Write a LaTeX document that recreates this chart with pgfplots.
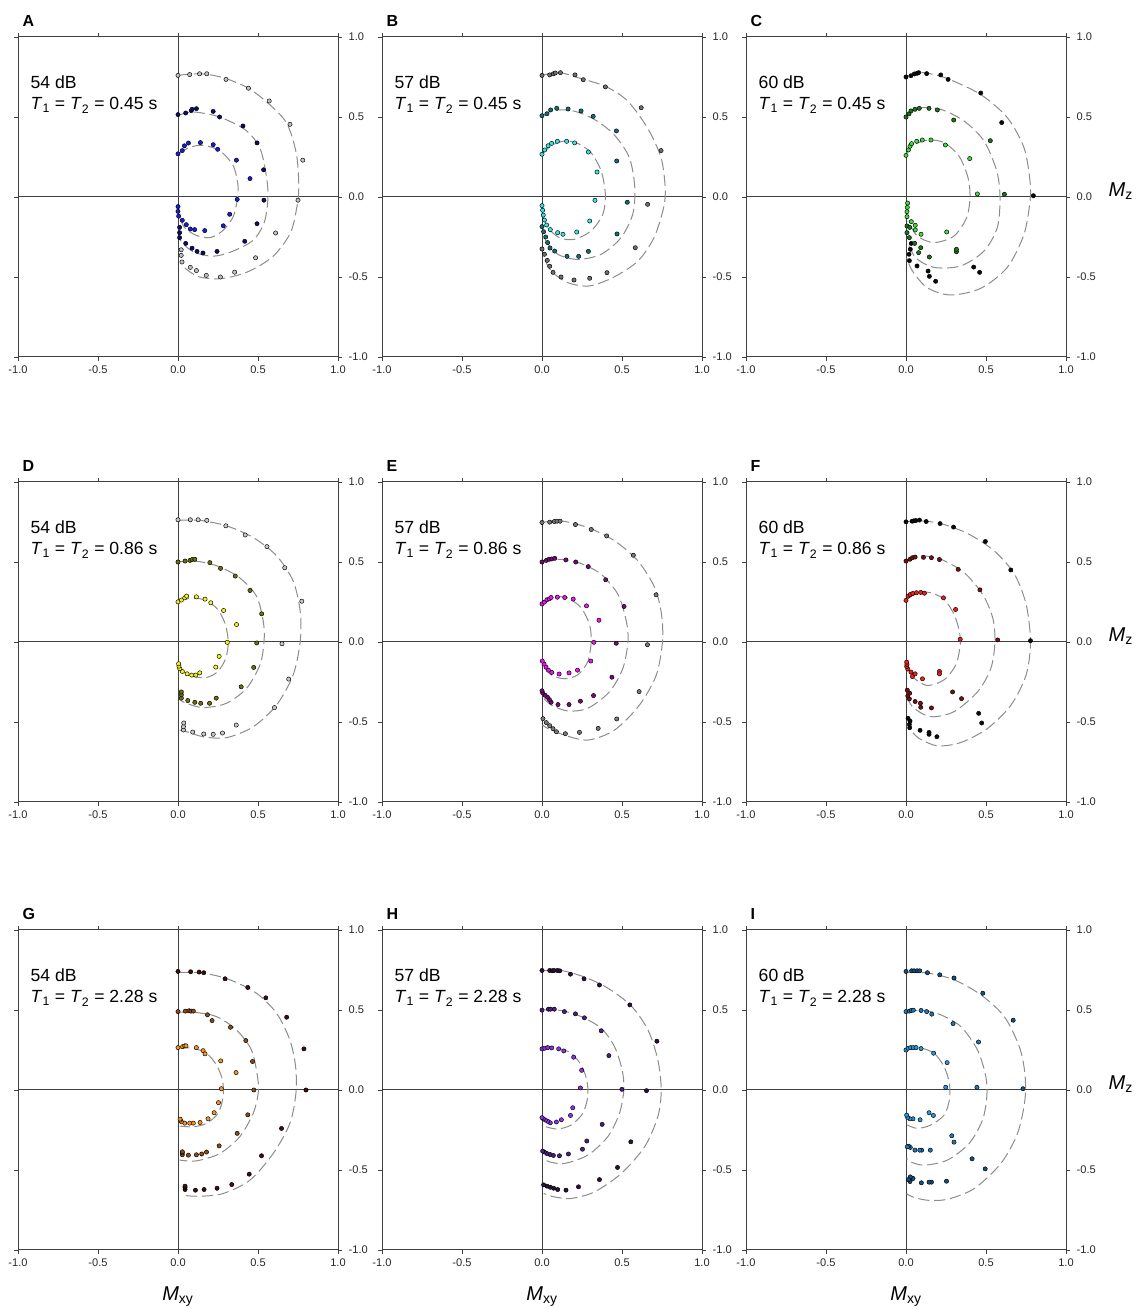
\documentclass[border=0pt]{standalone}
\usepackage{pgfplots}
\pgfplotsset{compat=1.18}
\usepackage{fontspec}
\setmainfont{Liberation Sans}

% series colours: inner, middle, outer trajectory of each panel
\definecolor{Ain}{HTML}{1A1AE0}\definecolor{Amid}{HTML}{0C0C70}\definecolor{Aout}{HTML}{C0C0C0}
\definecolor{Bin}{HTML}{33E6E6}\definecolor{Bmid}{HTML}{107070}\definecolor{Bout}{HTML}{6E6E6E}
\definecolor{Cin}{HTML}{3CDC3C}\definecolor{Cmid}{HTML}{147814}\definecolor{Cout}{HTML}{0A0A0A}
\definecolor{Din}{HTML}{F5F514}\definecolor{Dmid}{HTML}{6E6E0A}\definecolor{Dout}{HTML}{C8C8C8}
\definecolor{Ein}{HTML}{F014F0}\definecolor{Emid}{HTML}{780A78}\definecolor{Eout}{HTML}{787878}
\definecolor{Fin}{HTML}{F01E1E}\definecolor{Fmid}{HTML}{781010}\definecolor{Fout}{HTML}{0A0A0A}
\definecolor{Gin}{HTML}{F5961E}\definecolor{Gmid}{HTML}{8C4B14}\definecolor{Gout}{HTML}{3C0F0F}
\definecolor{Hin}{HTML}{8C32E6}\definecolor{Hmid}{HTML}{4B1E82}\definecolor{Hout}{HTML}{2D0F3C}
\definecolor{Iin}{HTML}{2896DC}\definecolor{Imid}{HTML}{1E78B4}\definecolor{Iout}{HTML}{145082}
\definecolor{framegray}{HTML}{404040}
\definecolor{dashgray}{HTML}{8C8C8C}

\pgfplotsset{
  blochpanel/.style={
    scale only axis, width=240pt, height=240pt,
    xmin=-1, xmax=1, ymin=-1, ymax=1,
    axis line style={draw=framegray, line width=0.75pt},
    xtick={-1,-0.5,0,0.5,1}, ytick={-1,-0.5,0,0.5,1},
    xticklabels={-1.0,-0.5,0.0,0.5,1.0}, yticklabels={-1.0,-0.5,0.0,0.5,1.0},
    tick align=outside, xtick pos=both, ytick pos=both,
    xticklabel pos=lower, yticklabel pos=right,
    major tick length=3pt, tick style={draw=framegray, line width=0.6pt},
    tick label style={font=\fontsize{8.3}{10}\selectfont, text=black!85},
    yticklabel style={xshift=1.5pt},
    anchor=south west,
  },
  dcurve/.style={smooth, draw=dashgray, line width=0.75pt, dash pattern=on 8.5pt off 3.5pt, no markers},
  dots/.style={only marks, mark=*, mark size=1.6pt, mark options={fill=#1, draw=black, line width=0.35pt}},
  originline/.style={draw=framegray, line width=0.75pt, no markers},
}

\newcommand\originlines{%
  \addplot[originline] coordinates {(-1,0) (1,0)};
  \addplot[originline] coordinates {(0,-1) (0,1)};}
\newcommand\paneltext[2]{%
  \node[anchor=base west, font=\fontsize{13.2}{15}\selectfont] at (rel axis cs:0.025,0.84) {#1 dB};
  \node[anchor=base west, font=\fontsize{13.2}{15}\selectfont] at (rel axis cs:0.025,0.772)
    {\textit{T}\textsubscript{1} = \textit{T}\textsubscript{2} = #2 s};}
\newcommand\panelletter[2]{\node[anchor=base west, yshift=7.5pt, font=\bfseries\fontsize{12}{14}\selectfont] at (#1.north west) {#2};}

\begin{document}
\begin{tikzpicture}
\useasboundingbox (0,0) rectangle (852pt,982.5pt);

% ---------------- A ----------------
\begin{axis}[blochpanel, name=pA, at={(13.5pt,714.75pt)}]
\originlines
\addplot[dcurve] coordinates {(0,0.76) (0.08,0.768) (0.18,0.767) (0.30,0.74) (0.44,0.68) (0.57,0.58) (0.68,0.46) (0.74,0.27) (0.755,0.06) (0.74,-0.08) (0.70,-0.23) (0.59,-0.375) (0.43,-0.47) (0.27,-0.51) (0.135,-0.50) (0.05,-0.45) (0.02,-0.41)};
\addplot[dcurve] coordinates {(0,0.51) (0.05,0.525) (0.115,0.53) (0.26,0.50) (0.42,0.42) (0.51,0.31) (0.55,0.146) (0.5625,0) (0.54,-0.156) (0.47,-0.27) (0.34,-0.34) (0.22,-0.37) (0.10,-0.345) (0.03,-0.29) (0.005,-0.25)};
\addplot[dcurve] coordinates {(0,0.27) (0.073,0.31) (0.156,0.323) (0.26,0.29) (0.344,0.198) (0.375,0.073) (0.37,-0.02) (0.344,-0.125) (0.28,-0.21) (0.20,-0.254) (0.115,-0.24) (0.04,-0.19) (0.004,-0.104)};
\addplot[dots=Aout] coordinates {(0,0.76) (0.073,0.765) (0.135,0.77) (0.18,0.77) (0.30,0.735) (0.44,0.68) (0.57,0.60) (0.70,0.454) (0.78,0.23) (0.75,-0.02) (0.61,-0.225) (0.485,-0.38) (0.354,-0.47) (0.265,-0.50) (0.177,-0.49) (0.115,-0.46) (0.077,-0.44) (0.025,-0.406) (0.02,-0.365) (0.02,-0.33)};
\addplot[dots=Amid] coordinates {(0,0.515) (0.048,0.525) (0.083,0.54) (0.088,0.548) (0.115,0.552) (0.22,0.535) (0.26,0.50) (0.406,0.444) (0.494,0.338) (0.535,0.17) (0.537,-0.02) (0.494,-0.167) (0.417,-0.277) (0.244,-0.34) (0.156,-0.35) (0.119,-0.34) (0.088,-0.32) (0.048,-0.29) (0.01,-0.254) (0.01,-0.223) (0.01,-0.19)};
\addplot[dots=Ain] coordinates {(0,0.27) (0.027,0.29) (0.04,0.32) (0.065,0.337) (0.14,0.34) (0.22,0.327) (0.248,0.298) (0.365,0.23) (0.45,0.115) (0.37,-0.015) (0.323,-0.108) (0.283,-0.18) (0.167,-0.21) (0.104,-0.204) (0.077,-0.20) (0.052,-0.173) (0.027,-0.146) (0.004,-0.12) (0,-0.09) (0,-0.06)};
\paneltext{54}{0.45}
\end{axis}
\panelletter{pA}{A}

% ---------------- B ----------------
\begin{axis}[blochpanel, name=pB, at={(286.5pt,714.75pt)}]
\originlines
\addplot[dcurve] coordinates {(0,0.76) (0.05,0.772) (0.12,0.776) (0.244,0.74) (0.40,0.69) (0.535,0.60) (0.66,0.43) (0.744,0.246) (0.77,0.058) (0.76,-0.067) (0.70,-0.254) (0.60,-0.40) (0.45,-0.50) (0.296,-0.556) (0.16,-0.535) (0.056,-0.46) (0.004,-0.36)};
\addplot[dcurve] coordinates {(0,0.506) (0.04,0.53) (0.098,0.544) (0.20,0.537) (0.327,0.485) (0.45,0.39) (0.546,0.246) (0.58,0.058) (0.567,-0.108) (0.494,-0.254) (0.37,-0.358) (0.223,-0.39) (0.098,-0.358) (0.025,-0.275) (0.004,-0.21)};
\addplot[dcurve] coordinates {(0,0.267) (0.056,0.32) (0.14,0.35) (0.223,0.335) (0.306,0.277) (0.37,0.1625) (0.396,0.017) (0.38,-0.108) (0.306,-0.2125) (0.20,-0.265) (0.108,-0.254) (0.035,-0.19) (0.004,-0.108)};
\addplot[dots=Bout] coordinates {(0,0.76) (0.048,0.763) (0.071,0.77) (0.083,0.775) (0.115,0.777) (0.206,0.763) (0.258,0.733) (0.396,0.688) (0.62,0.558) (0.744,0.29) (0.66,-0.046) (0.583,-0.317) (0.406,-0.473) (0.298,-0.508) (0.20,-0.519) (0.119,-0.50) (0.069,-0.471) (0.048,-0.433) (0.033,-0.396) (0.015,-0.358) (0,-0.325)};
\addplot[dots=Bmid] coordinates {(0,0.508) (0.031,0.52) (0.054,0.544) (0.092,0.554) (0.163,0.55) (0.244,0.538) (0.32,0.504) (0.465,0.413) (0.467,0.225) (0.533,-0.033) (0.469,-0.231) (0.29,-0.34) (0.229,-0.371) (0.156,-0.371) (0.079,-0.338) (0.05,-0.319) (0.035,-0.285) (0.023,-0.25) (0.01,-0.217) (0,-0.185)};
\addplot[dots=Bin] coordinates {(0,0.267) (0.017,0.294) (0.038,0.32) (0.06,0.335) (0.096,0.348) (0.154,0.348) (0.204,0.338) (0.29,0.281) (0.344,0.156) (0.331,-0.021) (0.298,-0.15) (0.217,-0.219) (0.131,-0.233) (0.098,-0.223) (0.052,-0.204) (0.029,-0.175) (0.015,-0.144) (0.008,-0.113) (0.004,-0.083) (0,-0.054)};
\paneltext{57}{0.45}
\end{axis}
\panelletter{pB}{B}

% ---------------- C ----------------
\begin{axis}[blochpanel, name=pC, at={(559.5pt,714.75pt)}]
\originlines
\addplot[dcurve] coordinates {(0,0.75) (0.05,0.768) (0.1125,0.777) (0.258,0.74) (0.467,0.64) (0.633,0.496) (0.7375,0.308) (0.775,0.1) (0.775,-0.025) (0.7375,-0.233) (0.633,-0.44) (0.467,-0.571) (0.279,-0.6125) (0.133,-0.567) (0.04,-0.4625) (0.004,-0.38)};
\addplot[dcurve] coordinates {(0,0.5) (0.03,0.535) (0.092,0.558) (0.217,0.548) (0.3625,0.475) (0.4875,0.35) (0.567,0.1625) (0.5875,0) (0.571,-0.19) (0.4875,-0.3375) (0.342,-0.431) (0.175,-0.44) (0.06,-0.379) (0.008,-0.275)};
\addplot[dcurve] coordinates {(0,0.2625) (0.025,0.31) (0.06,0.333) (0.144,0.356) (0.2375,0.34) (0.331,0.256) (0.3875,0.121) (0.4,0) (0.379,-0.129) (0.3,-0.244) (0.175,-0.285) (0.071,-0.244) (0.0125,-0.15)};
\addplot[dots=Cout] coordinates {(0,0.75) (0.031,0.758) (0.052,0.769) (0.069,0.773) (0.079,0.777) (0.129,0.771) (0.217,0.763) (0.263,0.735) (0.467,0.65) (0.598,0.465) (0.796,0.008) (0.46,-0.471) (0.423,-0.438) (0.185,-0.527) (0.146,-0.496) (0.138,-0.463) (0.069,-0.431) (0.021,-0.398) (0.019,-0.358) (0.027,-0.327) (0.033,-0.29)};
\addplot[dots=Cmid] coordinates {(0,0.5) (0.019,0.52) (0.031,0.538) (0.056,0.548) (0.083,0.554) (0.144,0.554) (0.196,0.544) (0.298,0.481) (0.527,0.352) (0.615,0.017) (0.315,-0.342) (0.315,-0.327) (0.146,-0.375) (0.079,-0.348) (0.092,-0.317) (0.054,-0.29) (0.021,-0.254) (0.006,-0.223) (0.006,-0.181) (0.023,-0.19)};
\addplot[dots=Cin] coordinates {(0,0.26) (0.015,0.294) (0.025,0.317) (0.035,0.333) (0.067,0.348) (0.102,0.356) (0.156,0.356) (0.246,0.325) (0.398,0.24) (0.446,0.019) (0.254,-0.219) (0.094,-0.233) (0.058,-0.206) (0.033,-0.154) (0.058,-0.177) (0.006,-0.123) (0.006,-0.092) (0.008,-0.065) (0.01,-0.038)};
\paneltext{60}{0.45}
\end{axis}
\panelletter{pC}{C}

% ---------------- D ----------------
\begin{axis}[blochpanel, name=pD, at={(13.5pt,381pt)}]
\originlines
\addplot[dcurve] coordinates {(0,0.76) (0.136,0.76) (0.303,0.726) (0.47,0.653) (0.617,0.538) (0.72,0.38) (0.764,0.19) (0.764,0.004) (0.72,-0.205) (0.617,-0.393) (0.47,-0.53) (0.303,-0.598) (0.157,-0.592) (0.052,-0.56) (0.01,-0.55)};
\addplot[dcurve] coordinates {(0,0.502) (0.136,0.502) (0.2615,0.469) (0.387,0.40) (0.49,0.287) (0.533,0.13) (0.538,0.004) (0.5125,-0.142) (0.429,-0.289) (0.303,-0.383) (0.157,-0.41) (0.052,-0.383) (0.01,-0.36)};
\addplot[dcurve] coordinates {(0,0.255) (0.073,0.272) (0.157,0.266) (0.24,0.213) (0.293,0.119) (0.314,0.004) (0.299,-0.10) (0.25,-0.184) (0.178,-0.222) (0.094,-0.215) (0.031,-0.184) (0.004,-0.142)};
\addplot[dots=Dout] coordinates {(0,0.764) (0.077,0.764) (0.126,0.764) (0.18,0.76) (0.299,0.726) (0.42,0.669) (0.556,0.596) (0.667,0.464) (0.774,0.255) (0.65,-0.011) (0.692,-0.232) (0.603,-0.41) (0.364,-0.519) (0.278,-0.569) (0.22,-0.577) (0.161,-0.575) (0.092,-0.563) (0.034,-0.55) (0.034,-0.529) (0.036,-0.506)};
\addplot[dots=Dmid] coordinates {(0,0.5) (0.044,0.506) (0.075,0.51) (0.088,0.515) (0.105,0.517) (0.199,0.496) (0.266,0.46) (0.358,0.412) (0.45,0.322) (0.523,0.176) (0.492,-0.006) (0.473,-0.159) (0.395,-0.28) (0.239,-0.351) (0.197,-0.383) (0.142,-0.383) (0.105,-0.377) (0.061,-0.366) (0.021,-0.351) (0.021,-0.33) (0.021,-0.312)};
\addplot[dots=Din] coordinates {(0,0.251) (0.021,0.262) (0.042,0.276) (0.054,0.287) (0.115,0.282) (0.169,0.268) (0.205,0.245) (0.285,0.197) (0.366,0.109) (0.308,-0.002) (0.257,-0.09) (0.236,-0.157) (0.136,-0.193) (0.111,-0.207) (0.086,-0.207) (0.057,-0.199) (0.027,-0.184) (0.011,-0.167) (0.006,-0.151) (0.004,-0.136)};
\paneltext{54}{0.86}
\end{axis}
\panelletter{pD}{D}

% ---------------- E ----------------
\begin{axis}[blochpanel, name=pE, at={(286.5pt,381pt)}]
\originlines
\addplot[dcurve] coordinates {(0,0.747) (0.119,0.757) (0.287,0.715) (0.454,0.632) (0.60,0.506) (0.705,0.339) (0.747,0.1715) (0.753,0.004) (0.715,-0.205) (0.61,-0.393) (0.454,-0.55) (0.287,-0.613) (0.14,-0.582) (0.0356,-0.54) (0.004,-0.519)};
\addplot[dcurve] coordinates {(0,0.496) (0.119,0.517) (0.245,0.49) (0.37,0.423) (0.475,0.297) (0.527,0.13) (0.5375,0.004) (0.506,-0.163) (0.4226,-0.31) (0.287,-0.414) (0.161,-0.431) (0.0565,-0.393) (0.0105,-0.351)};
\addplot[dcurve] coordinates {(0,0.245) (0.077,0.28) (0.161,0.276) (0.245,0.213) (0.297,0.109) (0.3075,0.004) (0.287,-0.121) (0.224,-0.205) (0.14,-0.23) (0.0565,-0.205) (0.0105,-0.153)};
\addplot[dots=Eout] coordinates {(0,0.747) (0.048,0.749) (0.077,0.753) (0.094,0.755) (0.113,0.755) (0.209,0.734) (0.308,0.703) (0.404,0.663) (0.571,0.542) (0.713,0.295) (0.659,-0.017) (0.607,-0.31) (0.467,-0.481) (0.351,-0.54) (0.234,-0.565) (0.146,-0.573) (0.09,-0.561) (0.069,-0.542) (0.048,-0.523) (0.027,-0.504) (0.006,-0.479)};
\addplot[dots=Emid] coordinates {(0,0.5) (0.027,0.51) (0.044,0.517) (0.061,0.519) (0.08,0.523) (0.149,0.513) (0.211,0.5) (0.289,0.471) (0.398,0.389) (0.513,0.222) (0.464,-0.008) (0.437,-0.22) (0.322,-0.335) (0.24,-0.37) (0.169,-0.391) (0.1,-0.391) (0.057,-0.377) (0.046,-0.36) (0.034,-0.345) (0.019,-0.333) (0.004,-0.318) (0,-0.305)};
\addplot[dots=Ein] coordinates {(0,0.238) (0.015,0.249) (0.031,0.264) (0.046,0.27) (0.057,0.278) (0.096,0.28) (0.142,0.278) (0.195,0.268) (0.278,0.226) (0.356,0.136) (0.324,-0.002) (0.305,-0.119) (0.222,-0.176) (0.169,-0.193) (0.107,-0.2) (0.061,-0.19) (0.04,-0.176) (0.025,-0.157) (0.013,-0.138) (0.002,-0.119)};
\paneltext{57}{0.86}
\end{axis}
\panelletter{pE}{E}

% ---------------- F ----------------
\begin{axis}[blochpanel, name=pF, at={(559.5pt,381pt)}]
\originlines
\addplot[dcurve] coordinates {(0,0.753) (0.092,0.757) (0.2175,0.74) (0.385,0.678) (0.552,0.569) (0.678,0.423) (0.751,0.234) (0.778,0.004) (0.751,-0.205) (0.657,-0.393) (0.51,-0.54) (0.343,-0.628) (0.197,-0.649) (0.0816,-0.6025) (0.019,-0.54)};
\addplot[dcurve] coordinates {(0,0.506) (0.092,0.538) (0.2175,0.517) (0.364,0.433) (0.479,0.297) (0.542,0.151) (0.556,0.004) (0.531,-0.163) (0.448,-0.31) (0.301,-0.435) (0.155,-0.467) (0.05,-0.414) (0.008,-0.351)};
\addplot[dcurve] coordinates {(0,0.26) (0.071,0.3075) (0.155,0.3075) (0.2385,0.266) (0.301,0.1715) (0.333,0.067) (0.339,-0.017) (0.3117,-0.142) (0.2385,-0.236) (0.134,-0.272) (0.05,-0.226) (0.008,-0.163)};
\addplot[dots=Fout] coordinates {(0,0.751) (0.038,0.755) (0.048,0.757) (0.061,0.759) (0.084,0.762) (0.126,0.753) (0.213,0.74) (0.297,0.718) (0.496,0.628) (0.655,0.45) (0.778,0.008) (0.454,-0.446) (0.473,-0.506) (0.193,-0.592) (0.144,-0.577) (0.144,-0.565) (0.088,-0.552) (0.023,-0.536) (0.021,-0.515) (0.025,-0.494) (0.013,-0.477)};
\addplot[dots=Fmid] coordinates {(0,0.506) (0.025,0.517) (0.04,0.527) (0.057,0.531) (0.109,0.529) (0.159,0.527) (0.209,0.515) (0.326,0.454) (0.462,0.326) (0.573,0.013) (0.347,-0.354) (0.291,-0.312) (0.159,-0.412) (0.092,-0.408) (0.09,-0.383) (0.057,-0.372) (0.021,-0.356) (0.011,-0.337) (0.023,-0.32) (0.008,-0.301)};
\addplot[dots=Fin] coordinates {(0,0.26) (0.013,0.287) (0.027,0.297) (0.042,0.303) (0.065,0.308) (0.092,0.31) (0.115,0.305) (0.234,0.276) (0.31,0.203) (0.339,0.017) (0.209,-0.184) (0.209,-0.199) (0.103,-0.23) (0.04,-0.216) (0.057,-0.199) (0.031,-0.188) (0.011,-0.169) (0.004,-0.153) (0.006,-0.14) (0.004,-0.126)};
\paneltext{60}{0.86}
\end{axis}
\panelletter{pF}{F}

% ---------------- G ----------------
\begin{axis}[blochpanel, name=pG, at={(13.5pt,45pt)}]
\originlines
\addplot[dcurve] coordinates {(0,0.735) (0.157,0.731) (0.324,0.689) (0.49,0.605) (0.616,0.48) (0.699,0.313) (0.735,0.146) (0.737,-0.021) (0.699,-0.209) (0.595,-0.397) (0.449,-0.564) (0.282,-0.647) (0.136,-0.664) (0.021,-0.658)};
\addplot[dcurve] coordinates {(0,0.486) (0.115,0.484) (0.24,0.459) (0.365,0.376) (0.459,0.25) (0.497,0.0835) (0.501,-0.021) (0.47,-0.146) (0.386,-0.292) (0.261,-0.397) (0.115,-0.443) (0.0104,-0.438)};
\addplot[dcurve] coordinates {(0,0.261) (0.094,0.261) (0.1775,0.23) (0.24,0.157) (0.278,0.0626) (0.282,-0.042) (0.25,-0.146) (0.1775,-0.209) (0.094,-0.23) (0.0104,-0.2255)};
\addplot[dots=Gout] coordinates {(0,0.741) (0.079,0.739) (0.132,0.737) (0.161,0.733) (0.294,0.695) (0.436,0.641) (0.549,0.576) (0.679,0.455) (0.787,0.257) (0.80,0) (0.647,-0.24) (0.522,-0.411) (0.445,-0.526) (0.336,-0.591) (0.244,-0.614) (0.163,-0.622) (0.109,-0.626) (0.044,-0.622) (0.044,-0.61) (0.044,-0.601)};
\addplot[dots=Gmid] coordinates {(0,0.49) (0.046,0.493) (0.069,0.495) (0.081,0.493) (0.096,0.493) (0.184,0.47) (0.213,0.434) (0.328,0.392) (0.424,0.309) (0.466,0.178) (0.474,0) (0.436,-0.155) (0.37,-0.271) (0.257,-0.349) (0.178,-0.388) (0.148,-0.4) (0.115,-0.405) (0.065,-0.407) (0.027,-0.405) (0.027,-0.392) (0.027,-0.386)};
\addplot[dots=Gin] coordinates {(0,0.265) (0.029,0.271) (0.042,0.276) (0.05,0.276) (0.115,0.265) (0.157,0.246) (0.169,0.226) (0.267,0.182) (0.363,0.109) (0.271,0.008) (0.253,-0.079) (0.226,-0.142) (0.188,-0.18) (0.138,-0.203) (0.096,-0.207) (0.073,-0.207) (0.042,-0.207) (0.021,-0.198) (0.015,-0.188) (0.013,-0.182)};
\paneltext{54}{2.28}
\end{axis}
\panelletter{pG}{G}

% ---------------- H ----------------
\begin{axis}[blochpanel, name=pH, at={(286.5pt,45pt)}]
\originlines
\addplot[dcurve] coordinates {(0,0.745) (0.119,0.747) (0.265,0.706) (0.411,0.637) (0.557,0.526) (0.662,0.376) (0.724,0.188) (0.745,0) (0.724,-0.167) (0.641,-0.355) (0.495,-0.522) (0.328,-0.637) (0.1816,-0.678) (0.077,-0.668) (0.0104,-0.647)};
\addplot[dcurve] coordinates {(0,0.501) (0.119,0.497) (0.244,0.459) (0.37,0.386) (0.453,0.271) (0.501,0.125) (0.5115,0) (0.484,-0.146) (0.411,-0.292) (0.286,-0.407) (0.14,-0.459) (0.046,-0.449) (0.004,-0.428)};
\addplot[dcurve] coordinates {(0,0.261) (0.098,0.261) (0.1816,0.23) (0.244,0.157) (0.28,0.0626) (0.286,-0.042) (0.2547,-0.146) (0.1816,-0.219) (0.098,-0.244) (0.025,-0.23)};
\addplot[dots=Hout] coordinates {(0,0.747) (0.048,0.747) (0.063,0.745) (0.075,0.747) (0.096,0.747) (0.111,0.745) (0.178,0.724) (0.263,0.695) (0.359,0.656) (0.549,0.532) (0.718,0.305) (0.653,-0.004) (0.555,-0.324) (0.472,-0.484) (0.359,-0.56) (0.228,-0.605) (0.15,-0.626) (0.098,-0.622) (0.073,-0.614) (0.052,-0.608) (0.031,-0.601) (0.01,-0.593)};
\addplot[dots=Hmid] coordinates {(0,0.499) (0.04,0.505) (0.054,0.505) (0.077,0.505) (0.14,0.49) (0.209,0.476) (0.265,0.451) (0.37,0.37) (0.418,0.215) (0.499,0.004) (0.376,-0.215) (0.28,-0.319) (0.253,-0.37) (0.165,-0.4) (0.109,-0.411) (0.071,-0.409) (0.05,-0.403) (0.031,-0.397) (0.015,-0.388) (0.004,-0.382)};
\addplot[dots=Hin] coordinates {(0,0.257) (0.017,0.261) (0.036,0.265) (0.061,0.263) (0.104,0.257) (0.136,0.244) (0.198,0.205) (0.248,0.123) (0.24,0.013) (0.192,-0.111) (0.178,-0.159) (0.121,-0.186) (0.09,-0.2) (0.052,-0.205) (0.036,-0.196) (0.021,-0.188) (0.008,-0.18) (0,-0.173)};
\paneltext{57}{2.28}
\end{axis}
\panelletter{pH}{H}

% ---------------- I ----------------
\begin{axis}[blochpanel, name=pI, at={(559.5pt,45pt)}]
\originlines
\addplot[dcurve] coordinates {(0,0.735) (0.134,0.731) (0.30,0.689) (0.4676,0.595) (0.614,0.459) (0.708,0.271) (0.743,0.104) (0.743,-0.0626) (0.697,-0.271) (0.593,-0.459) (0.426,-0.616) (0.259,-0.683) (0.134,-0.689) (0.04,-0.668) (0.004,-0.647)};
\addplot[dcurve] coordinates {(0,0.49) (0.1127,0.497) (0.217,0.47) (0.342,0.397) (0.447,0.25) (0.499,0.0835) (0.505,-0.042) (0.478,-0.188) (0.3946,-0.334) (0.259,-0.438) (0.1127,-0.47) (0.029,-0.449) (0.004,-0.428)};
\addplot[dcurve] coordinates {(0,0.25) (0.092,0.261) (0.175,0.23) (0.238,0.146) (0.271,0.042) (0.271,-0.0626) (0.238,-0.157) (0.1545,-0.219) (0.071,-0.24) (0.0084,-0.219)};
\addplot[dots=Iout] coordinates {(0,0.741) (0.035,0.745) (0.05,0.745) (0.069,0.745) (0.086,0.745) (0.134,0.733) (0.211,0.72) (0.30,0.70) (0.48,0.605) (0.67,0.436) (0.731,0.008) (0.495,-0.493) (0.413,-0.43) (0.253,-0.57) (0.159,-0.576) (0.144,-0.576) (0.096,-0.58) (0.044,-0.553) (0.027,-0.543) (0.025,-0.572) (0.015,-0.56)};
\addplot[dots=Imid] coordinates {(0,0.49) (0.021,0.493) (0.033,0.497) (0.046,0.499) (0.094,0.497) (0.129,0.49) (0.161,0.474) (0.294,0.415) (0.453,0.30) (0.443,0.017) (0.30,-0.326) (0.286,-0.286) (0.152,-0.376) (0.098,-0.376) (0.086,-0.376) (0.056,-0.376) (0.027,-0.359) (0.017,-0.351) (0.008,-0.355)};
\addplot[dots=Iin] coordinates {(0,0.25) (0.013,0.261) (0.029,0.265) (0.046,0.265) (0.063,0.265) (0.094,0.259) (0.173,0.23) (0.257,0.171) (0.248,0.017) (0.171,-0.159) (0.144,-0.142) (0.088,-0.186) (0.044,-0.18) (0.025,-0.18) (0.01,-0.171) (0.004,-0.157)};
\paneltext{60}{2.28}
\end{axis}
\panelletter{pI}{I}

% axis titles
\node[anchor=base west, xshift=28.5pt, font=\fontsize{15}{18}\selectfont] at (pC.east) {\textit{M}\textsubscript{z}};
\node[anchor=base west, xshift=28.5pt, font=\fontsize{15}{18}\selectfont] at (pF.east) {\textit{M}\textsubscript{z}};
\node[anchor=base west, xshift=28.5pt, font=\fontsize{15}{18}\selectfont] at (pI.east) {\textit{M}\textsubscript{z}};
\node[anchor=base, yshift=-38pt, font=\fontsize{15}{18}\selectfont] at (pG.south) {\textit{M}\textsubscript{xy}};
\node[anchor=base, yshift=-38pt, font=\fontsize{15}{18}\selectfont] at (pH.south) {\textit{M}\textsubscript{xy}};
\node[anchor=base, yshift=-38pt, font=\fontsize{15}{18}\selectfont] at (pI.south) {\textit{M}\textsubscript{xy}};
\end{tikzpicture}
\end{document}
